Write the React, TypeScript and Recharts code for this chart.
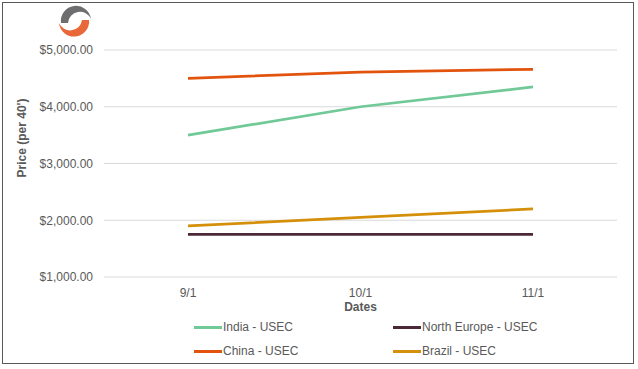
import { CartesianGrid, Line, LineChart, XAxis, YAxis } from 'recharts'

const dates = ['9/1', '10/1', '11/1']
const india = [3500, 4000, 4350]
const northEurope = [1750, 1750, 1750]
const china = [4500, 4610, 4660]
const brazil = [1900, 2050, 2200]
const yTicks = [1000, 2000, 3000, 4000, 5000]

const series = [
  { key: 'india', name: 'India - USEC', color: '#70C997', values: india },
  { key: 'northEurope', name: 'North Europe - USEC', color: '#4B2838', values: northEurope },
  { key: 'china', name: 'China - USEC', color: '#E2540E', values: china },
  { key: 'brazil', name: 'Brazil - USEC', color: '#D4900A', values: brazil },
]

const data = dates.map((date, i) => {
  const row: Record<string, string | number> = { date }
  for (const s of series) row[s.key] = s.values[i]
  return row
})

const font = '"Liberation Sans", Arial, sans-serif'
const textColor = '#595959'

function money(v: number) {
  return '$' + v.toLocaleString('en-US', { minimumFractionDigits: 2, maximumFractionDigits: 2 })
}

// legend order as in the picture: two columns
const legendSlots = [
  { s: series[0], x: 194, y: 327 },
  { s: series[1], x: 393, y: 327 },
  { s: series[2], x: 194, y: 351 },
  { s: series[3], x: 393, y: 351 },
]

function Logo() {
  return (
    <svg width={40} height={40} style={{ position: 'absolute', left: 55, top: 1 }} viewBox="0 0 40 40">
      <path d="M6,22 A14,14 0 0 1 36,18 A12,12 0 0 0 13,22 Z" fill="#6E6E70" />
      <path d="M34,19 A14,14 0 0 1 4,22 A12,12 0 0 0 27,19 Z" fill="#E8683A" />
    </svg>
  )
}

export default function App() {
  return (
    <div style={{ position: 'absolute', left: 0, top: 0, width: 638, height: 369, background: '#fff', fontFamily: font }}>
      <div
        style={{
          position: 'absolute',
          left: 2,
          top: 2,
          width: 630,
          height: 360,
          border: '1px solid #595959',
        }}
      />
      <Logo />
      <LineChart
        width={638}
        height={369}
        data={data}
        margin={{ top: 50, right: 21, left: 10, bottom: 52 }}
        style={{ position: 'absolute', left: 0, top: 0 }}
      >
        <CartesianGrid horizontal vertical={false} stroke="#D9D9D9" strokeWidth={1} />
        <XAxis
          dataKey="date"
          height={40}
          axisLine={false}
          tickLine={false}
          tickSize={0}
          tickMargin={11}
          padding={{ left: 84, right: 84 }}
          tick={{ fill: textColor, fontSize: 12, fontFamily: font }}
          label={{
            content: ({ viewBox }: any) => (
              <text
                x={viewBox.x + viewBox.width / 2}
                y={311}
                textAnchor="middle"
                fill={textColor}
                fontSize={12}
                fontWeight="bold"
                fontFamily={font}
              >
                Dates
              </text>
            ),
          }}
        />
        <YAxis
          width={94}
          domain={[1000, 5000]}
          ticks={yTicks}
          axisLine={false}
          tickLine={false}
          tickSize={0}
          tickMargin={11}
          tickFormatter={money}
          tick={{ fill: textColor, fontSize: 12, fontFamily: font }}
          label={{
            content: () => (
              <text
                x={0}
                y={0}
                transform="translate(26 138) rotate(-90)"
                textAnchor="middle"
                fill={textColor}
                fontSize={12}
                fontWeight="bold"
                fontFamily={font}
              >
                Price (per 40')
              </text>
            ),
          }}
        />
        {series.map((s) => (
          <Line
            key={s.key}
            dataKey={s.key}
            name={s.name}
            stroke={s.color}
            strokeWidth={2.75}
            dot={false}
            activeDot={false}
            isAnimationActive={false}
          />
        ))}
      </LineChart>
      {legendSlots.map(({ s, x, y }) => (
        <div
          key={s.key}
          style={{
            position: 'absolute',
            left: x,
            top: y - 8,
            height: 16,
            display: 'flex',
            alignItems: 'center',
            fontSize: 12,
            color: textColor,
            whiteSpace: 'nowrap',
          }}
        >
          <span style={{ display: 'inline-block', width: 28, height: 3, background: s.color, marginRight: 1 }} />
          <span>{s.name}</span>
        </div>
      ))}
    </div>
  )
}
